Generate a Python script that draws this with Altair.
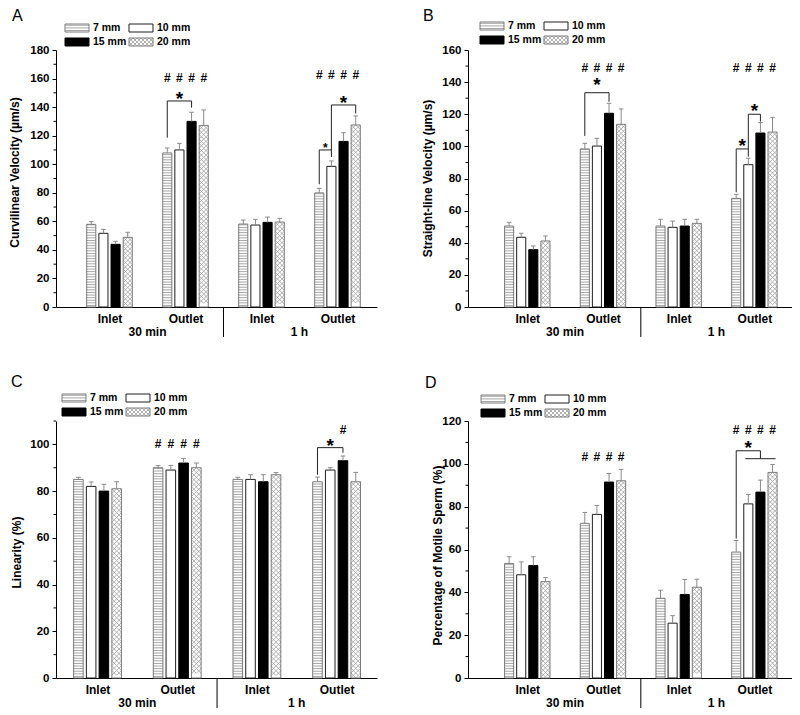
import altair as alt
import pandas as pd

FONT = "Liberation Sans"
lengths = ["7 mm", "10 mm", "15 mm", "20 mm"]
sites = ["Inlet", "Outlet", "Inlet", "Outlet"]
times = ["30 min", "1 h"]

# order: (30 min Inlet, 30 min Outlet, 1 h Inlet, 1 h Outlet) x (7, 10, 15, 20 mm)
vcl_mean = [57.9, 51.6, 43.9, 48.8, 107.9, 110.0, 130.0, 127.2, 58.1, 57.4, 59.3, 59.5, 79.9, 98.5, 116.0, 127.5]
vcl_err = [1.9, 2.8, 2.1, 3.5, 3.5, 4.6, 6.4, 10.8, 2.8, 4.0, 3.7, 2.6, 3.2, 3.8, 6.1, 6.3]
vsl_mean = [50.4, 43.4, 35.7, 41.1, 98.4, 100.2, 120.6, 113.7, 50.4, 49.6, 50.4, 52.1, 67.6, 88.6, 108.3, 108.9]
vsl_err = [2.3, 2.5, 2.3, 3.1, 3.5, 4.8, 6.2, 9.6, 4.2, 3.9, 4.2, 2.5, 2.5, 4.0, 6.5, 9.2]
lin_mean = [85.0, 82.0, 80.0, 81.0, 90.0, 89.0, 92.0, 90.0, 85.0, 85.0, 84.0, 87.0, 84.0, 89.0, 93.0, 84.0]
lin_err = [0.9, 1.9, 2.9, 3.0, 0.9, 2.0, 2.0, 2.0, 0.9, 2.0, 3.0, 0.9, 2.0, 1.0, 2.0, 4.0]
mot_mean = [53.5, 48.2, 52.5, 45.0, 72.2, 76.4, 91.5, 92.1, 37.2, 25.6, 39.0, 42.4, 58.8, 81.3, 86.8, 96.0]
mot_err = [3.1, 6.0, 4.1, 1.9, 5.1, 4.2, 4.0, 5.3, 3.8, 3.5, 7.0, 3.7, 5.4, 4.4, 5.6, 3.7]

# "#" rows over whole groups (group, y); single "#" (group, slot, y)
A_hash = [(1, 160.6), (3, 162.5)]
B_hash = [(1, 149.0), (3, 149.0)]
C_hash = [(1, 100.0)]
D_hash = [(1, 103.3), (3, 115.8)]
C_single_hash = [(3, 2, 106.3)]
# stars: (group, slot, y, size)
A_star = [(1, 1, 149.0, "big"), (3, 0.5, 113.5, "small"), (3, 2, 146.6, "big")]
B_star = [(1, 1, 141.3, "big"), (3, 0.5, 103.3, "big"), (3, 1.5, 125.0, "big")]
C_star = [(3, 1, 101.3, "big")]
D_star = [(3, 1, 109.9, "big")]
# bracket segments: (group, slot_a, y_a, slot_b, y_b)
A_seg = [(1, 0, 118.6, 0, 144.3), (1, 0, 144.3, 2, 144.3), (1, 2, 139.6, 2, 144.3),
         (3, 0, 86.0, 0, 110.0), (3, 0, 110.0, 1, 110.0), (3, 1, 105.0, 1, 141.5),
         (3, 1, 141.5, 3, 141.5), (3, 3, 135.6, 3, 141.5)]
B_seg = [(1, 0, 106.5, 0, 133.4), (1, 0, 133.4, 2, 133.4), (1, 2, 127.8, 2, 133.4),
         (3, 0, 71.4, 0, 98.4), (3, 0, 98.4, 1, 98.4), (3, 1, 93.6, 1, 120.0),
         (3, 1, 120.0, 2, 120.0), (3, 2, 115.4, 2, 120.0)]
C_seg = [(3, 0, 87.0, 0, 98.6), (3, 0, 98.6, 2, 98.6), (3, 2, 96.4, 2, 98.6)]
D_seg = [(3, 0, 65.1, 0, 106.1), (3, 0, 106.1, 2, 106.1), (3, 2, 102.4, 2, 106.1),
         (3, 0.75, 102.4, 3.25, 102.4)]

SLOT = 0.16
HALF = 0.06
H = 257
HATCH = "#8f8f8f"
ERR = "#8a8a8a"
fill_scale = alt.Scale(domain=lengths, range=["#ffffff", "#ffffff", "#000000", "#ffffff"])
stroke_scale = alt.Scale(domain=lengths, range=["#7a7a7a", "#1e1e1e", "#000000", "#7a7a7a"])
XPATH = "M-1,-1L1,1M1,-1L-1,1"


def slot_expr(g, k):
    return f"{g} + ({k} - 1.5) * {SLOT}"


def make_panel(letter, mean, err, ymax, ytitle, xdom, W, hashes, singles, stars, segs,
               leg_xy, title_xy, letter_xy):
    ppu = W / (xdom[1] - xdom[0])
    ppy = H / ymax
    xs = alt.Scale(domain=list(xdom), nice=False, zero=False)
    ys = alt.Scale(domain=[0, ymax], nice=False, zero=True)
    label_expr = "[" + ",".join(f"'{s}'" for s in sites) + "][datum.value]"
    xaxis = alt.Axis(values=[0, 1, 2, 3], labelExpr=label_expr, title=None, ticks=False,
                     tickSize=0, labelPadding=15, labelBaseline="alphabetic",
                     labelFontSize=12, labelFontWeight="bold", labelAngle=0,
                     domainColor="black", grid=False, labelFont=FONT, labelColor="black")
    major = list(range(0, ymax + 1, 20))
    minor = list(range(10, ymax + 1, 20))
    yaxis = alt.Axis(values=major, title=ytitle, titleX=title_xy[0], titleY=title_xy[1],
                     titleAngle=270, titleAlign="center", titleBaseline="middle",
                     titleFontSize=12, titleFontWeight="bold", titleFont=FONT, titleColor="black",
                     labelFontSize=11.5, labelFontWeight="bold", labelFont=FONT, labelColor="black",
                     tickSize=4, labelPadding=3, grid=False, domainColor="black",
                     tickColor="black")

    def X(f):
        return alt.X(f, scale=xs, axis=xaxis)

    def Y(f):
        return alt.Y(f, scale=ys, axis=yaxis)

    rows = []
    for i, (m, e) in enumerate(zip(mean, err)):
        g, k = divmod(i, 4)
        rows.append({"g": g, "k": k, "length": lengths[k], "mean": m, "top": m + e})
    df = pd.DataFrame(rows)
    base = alt.Chart(df).transform_calculate(
        pos=slot_expr("datum.g", "datum.k")
    ).transform_calculate(
        x1=f"datum.pos - {HALF}", x2=f"datum.pos + {HALF}",
        c1="datum.pos - 0.03", c2="datum.pos + 0.03",
    )

    fills = base.mark_bar().encode(
        x=X("x1:Q"), x2="x2:Q", y=Y("mean:Q"), y2=alt.datum(0),
        fill=alt.Fill("length:N", scale=fill_scale, legend=None),
    )
    step = 2.6 / ppy
    stripes = base.transform_filter("datum.k == 0").transform_calculate(
        s=f"sequence({step * 0.6}, datum.mean, {step})"
    ).transform_flatten(["s"]).mark_rule(color=HATCH, strokeWidth=0.8).encode(
        x=X("x1:Q"), x2="x2:Q", y=Y("s:Q"),
    )
    span = HALF * ppu
    hu = span / 2 / ppy
    cross = base.transform_filter("datum.k == 3").transform_calculate(
        r=f"sequence(datum.mean - {hu}, {hu * 0.99}, {-2 * hu})", c="[-1, 1]"
    ).transform_flatten(["r"]).transform_flatten(["c"]).transform_calculate(
        cx=f"datum.pos + datum.c * {HALF / 2}"
    ).mark_point(shape=XPATH, size=span * span, filled=False, stroke=HATCH,
                 strokeWidth=0.7, opacity=1).encode(x=X("cx:Q"), y=Y("r:Q"))
    outlines = base.mark_bar(fillOpacity=0, strokeWidth=1).encode(
        x=X("x1:Q"), x2="x2:Q", y=Y("mean:Q"), y2=alt.datum(0),
        stroke=alt.Stroke("length:N", scale=stroke_scale, legend=None),
    )
    ebar = base.mark_rule(color=ERR, strokeWidth=1).encode(
        x=X("pos:Q"), y=Y("mean:Q"), y2="top:Q")
    ecap = base.mark_rule(color=ERR, strokeWidth=1).encode(
        x=X("c1:Q"), x2="c2:Q", y=Y("top:Q"))
    mt = alt.Chart(pd.DataFrame({"v": minor})).mark_rule(color="black").encode(
        x=alt.value(-2.5), x2=alt.value(0), y=Y("v:Q"))
    tdf = pd.DataFrame({"t": times, "p": [0.5, 2.5]})
    tlab = alt.Chart(tdf).mark_text(font=FONT, fontSize=12, fontWeight="bold",
                                    baseline="alphabetic").encode(
        x=X("p:Q"), y=alt.value(H + 29), text="t:N")
    sep = alt.Chart(pd.DataFrame({"p": [1.5]})).mark_rule(color="black").encode(
        x=X("p:Q"), y=alt.value(H), y2=alt.value(H + 30))
    arows = []
    for g, y in hashes:
        for k in range(4):
            arows.append({"g": g, "k": k, "y": y, "t": "#", "s": "hash"})
    for g, k, y in singles:
        arows.append({"g": g, "k": k, "y": y, "t": "#", "s": "hash"})
    for g, k, y, s in stars:
        arows.append({"g": g, "k": k, "y": y, "t": "*", "s": s})
    abase = alt.Chart(pd.DataFrame(arows)).transform_calculate(xp=slot_expr("datum.g", "datum.k"))
    ann_layers = []
    for s, fs, dy in [("hash", 12, 0), ("big", 19, 5), ("small", 12, 3)]:
        ann_layers.append(abase.transform_filter(f"datum.s == '{s}'").mark_text(
            font=FONT, fontSize=fs, fontWeight="bold", baseline="middle", dy=dy).encode(
            x=X("xp:Q"), y=Y("y:Q"), text="t:N"))
    sdf = pd.DataFrame(segs, columns=["g", "ka", "ya", "kb", "yb"])
    seg = alt.Chart(sdf).transform_calculate(
        xa=slot_expr("datum.g", "datum.ka"), xb=slot_expr("datum.g", "datum.kb")
    ).mark_rule(color="#222222", strokeWidth=1).encode(
        x=X("xa:Q"), x2="xb:Q", y=Y("ya:Q"), y2="yb:Q")

    # legend: offsets in pixels relative to the plot's top-left, converted to data units
    lx, ly = leg_xy
    x0 = xdom[0]

    def dx(f):
        return f"{x0} + ({f}) / {ppu}"

    def dyy(f):
        return f"{ymax} - ({f}) / {ppy}"

    ldf = pd.DataFrame({"length": lengths, "i": list(range(4))})
    lb = alt.Chart(ldf).transform_calculate(
        sx=f"{lx} + (datum.i % 2) * 64", sy=f"{ly} + floor(datum.i / 2) * 14 - 4"
    ).transform_calculate(
        sx2="datum.sx + 24", sy2="datum.sy + 8"
    ).transform_calculate(
        tx="datum.sx2 + 4", ty="datum.sy + 4"
    ).transform_calculate(
        X1=dx("datum.sx"), X2=dx("datum.sx2"), Y1=dyy("datum.sy"), Y2=dyy("datum.sy2"),
        TX=dx("datum.tx"), TY=dyy("datum.ty"))
    lfill = lb.mark_rect().encode(
        x=X("X1:Q"), x2="X2:Q", y=Y("Y1:Q"), y2="Y2:Q",
        fill=alt.Fill("length:N", scale=fill_scale, legend=None))
    lstripe = lb.transform_filter("datum.i == 0").transform_calculate(
        s="sequence(datum.sy + 1.3, datum.sy2, 2.6)").transform_flatten(["s"]).transform_calculate(
        S=dyy("datum.s")).mark_rule(color=HATCH, strokeWidth=0.8).encode(
        x=X("X1:Q"), x2="X2:Q", y=Y("S:Q"))
    lcross = lb.transform_filter("datum.i == 3").transform_calculate(
        cxs="sequence(datum.sx + 2, datum.sx2, 4)", cys="sequence(datum.sy + 2, datum.sy2, 4)"
    ).transform_flatten(["cxs"]).transform_flatten(["cys"]).transform_calculate(
        CX=dx("datum.cxs"), CY=dyy("datum.cys")).mark_point(
        shape=XPATH, size=16, filled=False, stroke=HATCH, strokeWidth=0.7, opacity=1).encode(
        x=X("CX:Q"), y=Y("CY:Q"))
    lout = lb.mark_rect(fillOpacity=0, strokeWidth=1).encode(
        x=X("X1:Q"), x2="X2:Q", y=Y("Y1:Q"), y2="Y2:Q",
        stroke=alt.Stroke("length:N", scale=stroke_scale, legend=None))
    ltext = lb.mark_text(font=FONT, fontSize=10.5, fontWeight="bold", align="left",
                         baseline="middle").encode(
        x=X("TX:Q"), y=Y("TY:Q"), text="length:N")
    let = alt.Chart(pd.DataFrame({"t": [letter]})).mark_text(
        font=FONT, fontSize=16, align="left", baseline="alphabetic").encode(
        x=alt.value(letter_xy[0]), y=alt.value(letter_xy[1]), text="t:N")
    return alt.layer(fills, stripes, cross, outlines, ebar, ecap, mt, tlab, sep, seg,
                     *ann_layers, lfill, lstripe, lcross, lout, ltext, let).properties(
        width=W, height=H)


pA = make_panel("A", vcl_mean, vcl_err, 180, "Curvilinear Velocity (µm/s)", (-0.704, 3.52), 321,
                A_hash, [], A_star, A_seg, (9, -22), (-42, 122), (-44, -29))
pB = make_panel("B", vsl_mean, vsl_err, 160, "Straight-line Velocity (µm/s)", (-0.783, 3.497), 324,
                B_hash, [], B_star, B_seg, (12, -24), (-41, 128), (-45, -29))
pC = make_panel("C", lin_mean, lin_err, 110, "Linearity (%)", (-0.521, 3.507), 321,
                C_hash, C_single_hash, C_star, C_seg, (6, -23), (-40, 131), (-45, -34))
pD = make_panel("D", mot_mean, mot_err, 120, "Percentage of Motile Sperm (%)", (-0.783, 3.497), 324,
                D_hash, [], D_star, D_seg, (13, -22), (-31, 134), (-43, -33))

chart = alt.concat(pA, pB, pC, pD, columns=2, spacing={"row": 114, "column": 91},
                   bounds="flush").properties(padding=0).configure_view(stroke=None)

chart.save("out.html", embed_options={"renderer": "svg", "actions": False})
